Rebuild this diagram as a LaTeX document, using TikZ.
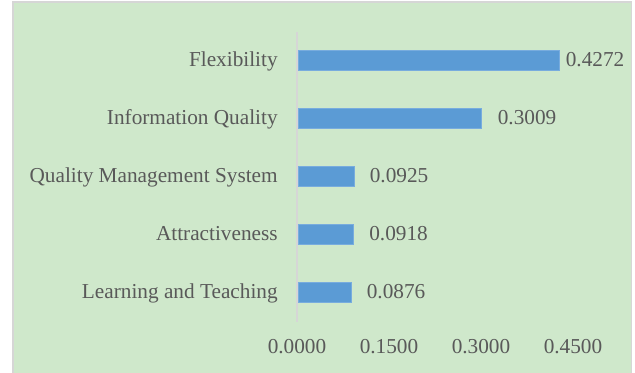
\documentclass[tikz,border=0pt]{standalone}
\usepackage{fontspec}
\setmainfont{Liberation Serif}
\definecolor{chartbg}{RGB}{207,232,203}
\definecolor{barblue}{RGB}{91,155,213}
\definecolor{barline}{RGB}{120,172,222}
\definecolor{txtgray}{RGB}{89,89,89}
\definecolor{axgray}{RGB}{214,214,214}

\begin{document}
\begin{tikzpicture}[
    bar/.style={fill=barblue, draw=barline, line width=0.5pt},
    lbl/.style={text=txtgray, font=\fontsize{12.1}{14}\selectfont, inner sep=0pt,
      text height=1.6ex, text depth=0.45ex}
  ]
    \useasboundingbox (0,0) rectangle (12.7,7.46);
    \fill[white] (0,0) rectangle (12.7,7.46);
    \draw[axgray, fill=chartbg, line width=0.9pt] (0.26,-0.2)--(0.26,7.42)--(12.63,7.42)--(12.63,-0.2);
    % axis
    \draw[axgray, line width=0.9pt] (5.94,1.02)--(5.94,6.82);
    % bars
    \draw[bar] (5.96,6.045) rectangle (11.18,6.455);
    \draw[bar] (5.96,4.885) rectangle (9.63,5.295);
    \draw[bar] (5.96,3.725) rectangle (7.08,4.135);
    \draw[bar] (5.96,2.565) rectangle (7.07,2.975);
    \draw[bar] (5.96,1.405) rectangle (7.02,1.815);
    % categories
    \node[lbl, anchor=east] (flex) at (5.56,6.23) {Flexibility};
    \node[lbl, anchor=east] (infoq) at (5.56,5.07) {Information Quality};
    \node[lbl, anchor=east] (qms) at (5.56,3.91) {Quality Management System};
    \node[lbl, anchor=east] (attr) at (5.56,2.75) {Attractiveness};
    \node[lbl, anchor=east] (learn) at (5.56,1.59) {Learning and Teaching};
    % values
    \node[lbl, anchor=west] (vflex) at (11.31,6.23) {0.4272};
    \node[lbl, anchor=west] (vinfoq) at (9.95,5.07) {0.3009};
    \node[lbl, anchor=west] (vqms) at (7.39,3.91) {0.0925};
    \node[lbl, anchor=west] (vattr) at (7.38,2.75) {0.0918};
    \node[lbl, anchor=west] (vlearn) at (7.33,1.59) {0.0876};
    % ticks
    \node[lbl] (t0) at (5.94,0.49) {0.0000};
    \node[lbl] (t1) at (7.78,0.49) {0.1500};
    \node[lbl] (t2) at (9.62,0.49) {0.3000};
    \node[lbl] (t3) at (11.46,0.49) {0.4500};
\end{tikzpicture}
\end{document}
